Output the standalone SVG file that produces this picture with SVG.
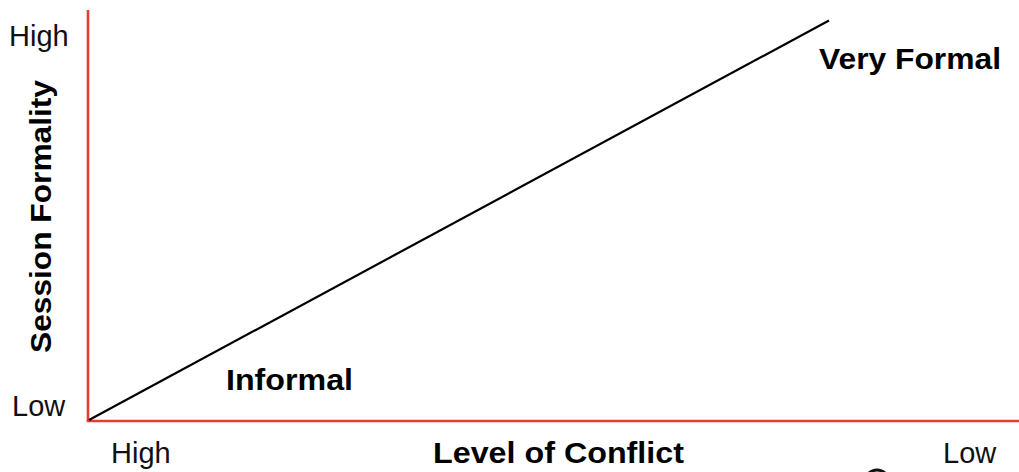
<svg xmlns="http://www.w3.org/2000/svg" width="1019" height="472" viewBox="0 0 1019 472">
  <style>
    .axis { stroke: #e63d2e; stroke-width: 2.6; fill: none; }
    .trend { stroke: #000; stroke-width: 2.2; fill: none; }
    .tick { font-family: "Liberation Sans", Arial, sans-serif; font-size: 29px; fill: #111; }
    .title { font-family: "Liberation Sans", Arial, sans-serif; font-size: 29px; font-weight: bold; fill: #000; }
  </style>
  <rect width="1019" height="472" fill="#fff"/>

  <!-- axes -->
  <g id="axes">
    <line class="axis" x1="88" y1="10" x2="88" y2="421.3"/>
    <line class="axis" x1="86.7" y1="421" x2="1019" y2="421"/>
  </g>

  <!-- formality trend -->
  <g id="connectors">
    <line class="trend" x1="89" y1="420" x2="829" y2="20.5"/>
  </g>

  <!-- axis end labels -->
  <g id="y-high"><text class="tick" x="9" y="46">High</text></g>
  <g id="y-low"><text class="tick" x="12" y="416">Low</text></g>
  <g id="x-high"><text class="tick" x="111" y="463">High</text></g>
  <g id="x-low"><text class="tick" x="943" y="463">Low</text></g>

  <!-- axis titles -->
  <g id="x-title"><text class="title" x="433" y="463" textLength="251" lengthAdjust="spacingAndGlyphs">Level of Conflict</text></g>
  <g id="y-title"><text class="title" transform="translate(51,353) rotate(-90)" x="0" y="0" textLength="273" lengthAdjust="spacingAndGlyphs">Session Formality</text></g>

  <!-- region labels -->
  <g id="informal"><text class="title" x="226" y="390" textLength="127" lengthAdjust="spacingAndGlyphs">Informal</text></g>
  <g id="very-formal"><text class="title" x="819" y="69" textLength="182" lengthAdjust="spacingAndGlyphs">Very Formal</text></g>

  <!-- ring at the bottom edge -->
  <g id="ring"><circle cx="877" cy="482" r="12" fill="none" stroke="#111" stroke-width="3"/></g>
</svg>
